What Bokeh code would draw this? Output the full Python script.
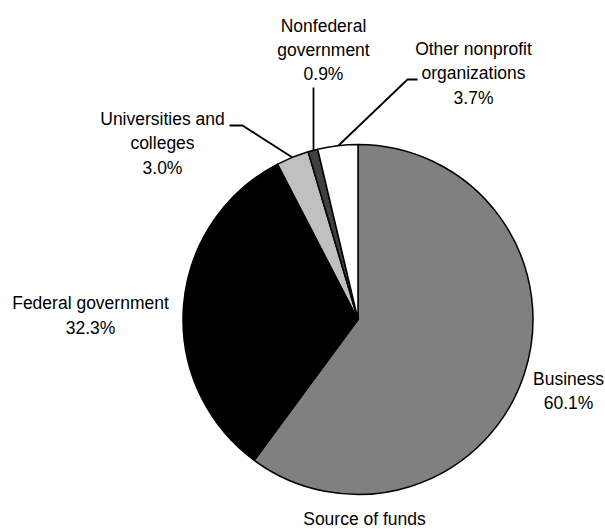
import math
from bokeh.plotting import figure
from bokeh.models import Range1d, ColumnDataSource
from bokeh.core.properties import value
from bokeh.embed import file_html
from bokeh.resources import INLINE

# ---- data ----
categories = ["Business", "Federal government", "Universities and colleges",
              "Nonfederal government", "Other nonprofit organizations"]
shares = [60.1, 32.3, 3.0, 0.9, 3.7]
colors = ["#808080", "#000000", "#C0C0C0", "#404040", "#FFFFFF"]
label_texts = ["Business\n60.1%", "Federal government\n32.3%",
               "Universities and\ncolleges\n3.0%", "Nonfederal\ngovernment\n0.9%",
               "Other nonprofit\norganizations\n3.7%"]
title_text = "Source of funds"

W, H = 605, 529
FONT = "Liberation Sans"
FS = "17.5px"

def sy(y):
    return H - y

p = figure(width=W, height=H, output_backend="svg", toolbar_location=None,
           x_range=Range1d(0, W), y_range=Range1d(0, H),
           x_axis_location=None, y_axis_location=None,
           min_border=0, min_border_left=0, min_border_right=0,
           min_border_top=0, min_border_bottom=0)
p.grid.visible = False
p.outline_line_color = None
p.background_fill_color = "white"
p.border_fill_color = "white"

cx, cy, r = 357.5, sy(319), 175
total = sum(shares)
starts, ends = [], []
cum = 0.0
for s in shares:
    starts.append(math.pi / 2 - 2 * math.pi * cum / total)
    cum += s
    ends.append(math.pi / 2 - 2 * math.pi * cum / total)

src = ColumnDataSource(dict(start=starts, end=ends, color=colors))
p.wedge(x=cx, y=cy, radius=r, start_angle="start", end_angle="end",
        direction="clock", fill_color="color", line_color="black",
        line_width=1.5, source=src)

# leader lines
lx = [[229, 242, 292], [313, 313], [338, 407, 417]]
ly = [[125, 125, 157], [87, 150], [145, 79, 79]]
p.multi_line(xs=lx, ys=[[sy(v) for v in l] for l in ly], line_color="black",
             line_width=1.8)

# labels
lab_x = [568, 90, 162, 323, 473]
lab_y = [390.5, 315, 143, 49.5, 73]
p.text(x=lab_x, y=[sy(v) for v in lab_y], text=label_texts,
       text_font=value(FONT), text_font_size=FS, text_align="center",
       text_baseline="middle", text_line_height=1.22, text_color="black")

p.text(x=[364], y=[sy(518)], text=[title_text], text_font=value(FONT),
       text_font_size=FS, text_align="center", text_baseline="middle",
       text_color="black")

open("out.html", "w").write(file_html(p, INLINE))
